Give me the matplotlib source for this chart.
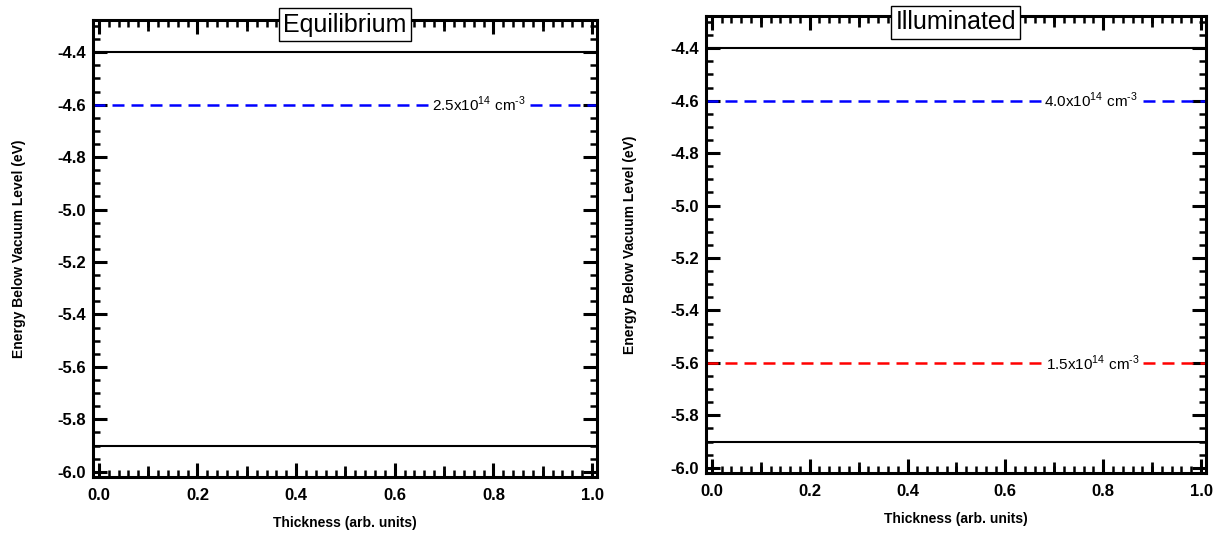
import numpy as np
import matplotlib
matplotlib.use("Agg")
import matplotlib.pyplot as plt
from matplotlib.ticker import MultipleLocator

plt.rcParams.update({
    'font.family': ['Liberation Sans', 'DejaVu Sans'],
    'mathtext.fontset': 'custom',
    'mathtext.rm': 'Liberation Sans',
    'axes.linewidth': 2.2,
    'xtick.direction': 'in',
    'ytick.direction': 'in',
    'xtick.top': True,
    'ytick.right': True,
})

# Band edges and quasi-Fermi levels (eV below vacuum)
PANELS = ["Equilibrium", "Illuminated"]
CB_EDGE = -4.4
VB_EDGE = -5.9
EQ_LEVELS = [-4.6]
EQ_COLORS = ["#0000ff"]
EQ_LABELS = [r"2.5x10$^{14}$ cm$^{\text{-3}}$"]
EQ_LABEL_X = [0.77]
ILL_LEVELS = [-4.6, -5.6]
ILL_COLORS = ["#0000ff", "#ff0000"]
ILL_LABELS = [r"4.0x10$^{14}$ cm$^{\text{-3}}$", r"1.5x10$^{14}$ cm$^{\text{-3}}$"]
ILL_LABEL_X = [0.775, 0.78]

fig = plt.figure(figsize=(12.18, 5.38), dpi=100)
ax_pos = [
    [0.0763, 0.1134, 0.4138, 0.8494],
    [0.5796, 0.1208, 0.4105, 0.8494],
]
title_y = [0.99, 0.986]
ylabel_x = [-0.133, -0.138]
panel_levels = [EQ_LEVELS, ILL_LEVELS]
panel_colors = [EQ_COLORS, ILL_COLORS]
panel_labels = [EQ_LABELS, ILL_LABELS]
panel_label_x = [EQ_LABEL_X, ILL_LABEL_X]

for i, name in enumerate(PANELS):
    ax = fig.add_axes(ax_pos[i])

    # band edges
    ax.axhline(CB_EDGE, color='black', lw=1.5)
    ax.axhline(VB_EDGE, color='black', lw=1.5)

    # quasi-Fermi levels with carrier density labels
    for lev, col, lab, lx in zip(panel_levels[i], panel_colors[i],
                                 panel_labels[i], panel_label_x[i]):
        ax.axhline(lev, color=col, lw=1.8, ls=(0, (4.8, 2.8)))
        ax.text(lx, lev, lab, fontsize=11, ha='center', va='center',
                bbox=dict(facecolor='white', edgecolor='none', pad=0.5),
                zorder=5)

    ax.xaxis.set_major_locator(MultipleLocator(0.2))
    ax.xaxis.set_minor_locator(MultipleLocator(0.02))
    ax.yaxis.set_major_locator(MultipleLocator(0.2))
    ax.yaxis.set_minor_locator(MultipleLocator(0.05))
    ax.tick_params(which='major', length=10, width=2.2, labelsize=12, pad=5)
    ax.tick_params(axis='x', which='major', pad=8)
    ax.tick_params(which='minor', length=5, width=1.8)
    xt = np.round(np.arange(0.0, 1.01, 0.2), 1)
    yt = np.round(np.arange(-6.0, -4.39, 0.2), 1)
    ax.set_xticks(xt)
    ax.set_xticklabels([f"{t:.1f}" for t in xt], fontweight='bold')
    ax.set_yticks(yt)
    ax.set_yticklabels([f"{t:.1f}" for t in yt], fontweight='bold')
    ax.set_xlim(-0.012, 1.01)
    ax.set_ylim(-6.02, -4.277)

    # medium ticks at the odd tenths
    for side in ('bottom', 'top'):
        sec = ax.secondary_xaxis(side)
        sec.set_xticks(np.arange(0.1, 1.0, 0.2))
        sec.tick_params(direction='in', length=8, width=2.0,
                        labelbottom=False, labeltop=False)
        sec.spines[side].set_visible(False)

    ax.set_xlabel("Thickness (arb. units)", fontsize=10, fontweight='bold',
                  labelpad=9)
    ax.set_ylabel("Energy Below Vacuum Level (eV)", fontsize=10,
                  fontweight='bold')
    ax.yaxis.set_label_coords(ylabel_x[i], 0.5)

    ax.text(0.5, title_y[i], name, transform=ax.transAxes, fontsize=18,
            ha='center', va='center', zorder=6,
            bbox=dict(facecolor='white', edgecolor='black', lw=1.0, pad=3))

fig.savefig("out.png", dpi=100)
